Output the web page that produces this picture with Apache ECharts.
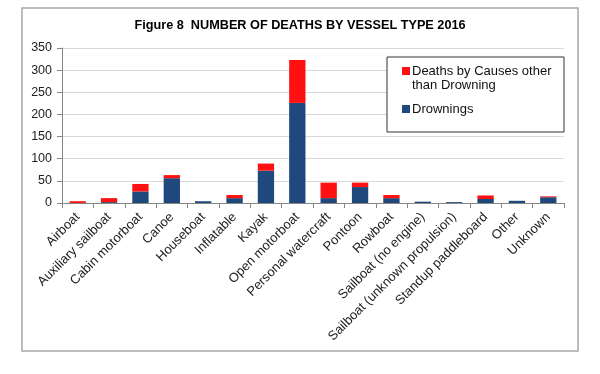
<!DOCTYPE html>
<html><head><meta charset="utf-8">
<script src="https://cdn.jsdelivr.net/npm/echarts@6/dist/echarts.min.js"></script>
<style>html,body{margin:0;padding:0;background:#fff}#c{width:600px;height:374px}</style>
</head><body><div id="c"></div>
<script>
const categories = ["Airboat","Auxiliary sailboat","Cabin motorboat","Canoe","Houseboat","Inflatable","Kayak","Open motorboat","Personal watercraft","Pontoon","Rowboat","Sailboat (no engine)","Sailboat (unknown propulsion)","Standup paddleboard","Other","Unknown"];
const drownings = [0,2,26,56,4,11,73,226,11,36,11,3,2,9,5,13];
const otherCauses = [4,9,17,7,0,7,16,97,35,10,7,0,0,8,0,2];
const yTicks = {min:0, max:350, interval:50};

const chart = echarts.init(document.getElementById('c'));
const font = 'Arial, "Liberation Sans", sans-serif';
const otherName = 'Deaths by Causes other\nthan Drowning';
chart.setOption({
  animation:false,
  title:{text:'Figure 8  NUMBER OF DEATHS BY VESSEL TYPE 2016', left:'center', top:14,
    textStyle:{fontFamily:font, fontSize:12.7, fontWeight:'bold', color:'#000'}},
  graphic:[
    {type:'rect', shape:{x:22,y:8,width:556,height:343}, style:{fill:'none', stroke:'#a6a6a6', lineWidth:1.5}, silent:true},
    {type:'rect', shape:{x:387,y:57,width:177,height:75}, style:{fill:'#fff', stroke:'#333', lineWidth:1}, z:5, silent:true}
  ],
  legend:{orient:'vertical', left:397, top:59, itemWidth:8, itemHeight:22, itemGap:6, z:10,
    data:[
      {name:otherName, icon:'path://M0,0L8,0L8,8L0,8Z M0,8L0,22'},
      {name:'Drownings', icon:'path://M0,7L8,7L8,15L0,15Z M0,0L0,22'}
    ],
    textStyle:{fontFamily:font, fontSize:13, color:'#111', lineHeight:14, padding:[0,0,0,-3]}},
  grid:{left:62, right:36, top:48, bottom:171},
  xAxis:{type:'category', data:categories,
    axisLine:{lineStyle:{color:'#868686'}},
    axisTick:{show:true, alignWithLabel:false, length:5, lineStyle:{color:'#868686'}},
    axisLabel:{interval:0, rotate:45, fontFamily:font, fontSize:13, color:'#222', margin:12}},
  yAxis:{type:'value', min:yTicks.min, max:yTicks.max, interval:yTicks.interval,
    axisLine:{show:true, lineStyle:{color:'#868686'}},
    axisTick:{show:true, length:5, lineStyle:{color:'#868686'}},
    splitLine:{lineStyle:{color:'#d9d9d9'}},
    axisLabel:{fontFamily:font, fontSize:12.5, color:'#222', margin:10}},
  series:[
    {name:'Drownings', type:'bar', stack:'t', data:drownings, barWidth:'52%', itemStyle:{color:'#1f497d'}},
    {name:otherName, type:'bar', stack:'t', data:otherCauses, itemStyle:{color:'#ff1111'}}
  ]
});
</script></body></html>
